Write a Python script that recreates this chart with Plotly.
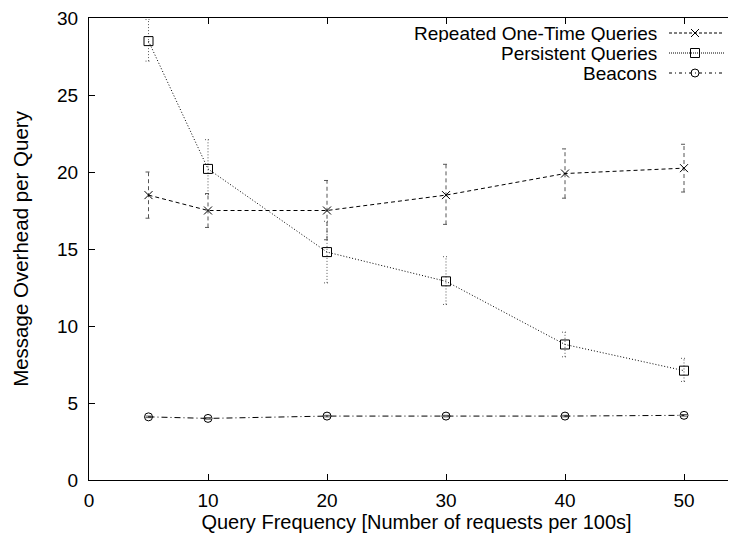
import plotly.graph_objects as go

freq = [5, 10, 20, 30, 40, 50]

rep_names = "Repeated One-Time Queries"
rep_mean = [18.5, 17.5, 17.5, 18.5, 19.9, 20.25]
rep_lo = [17.0, 16.4, 15.6, 16.6, 18.3, 18.7]
rep_hi = [20.0, 18.6, 19.45, 20.5, 21.5, 21.8]

per_names = "Persistent Queries"
per_mean = [28.5, 20.2, 14.8, 12.9, 8.8, 7.1]
per_lo = [27.2, 18.55, 12.8, 11.4, 8.0, 6.4]
per_hi = [29.9, 22.1, 16.8, 14.5, 9.6, 7.9]

bea_names = "Beacons"
bea_mean = [4.1, 4.0, 4.15, 4.15, 4.15, 4.2]
bea_lo = [4.05, 3.95, 4.1, 4.1, 4.1, 4.15]
bea_hi = [4.15, 4.05, 4.2, 4.2, 4.2, 4.25]

FONT = "Liberation Sans, Arial, sans-serif"
fig = go.Figure()

series = [
    (rep_names, rep_mean, rep_lo, rep_hi, "x-thin", 8, "4px,3px", "3px,2px"),
    (per_names, per_mean, per_lo, per_hi, "square-open", 9, "1px,2px", "1px,1px"),
    (bea_names, bea_mean, bea_lo, bea_hi, "circle-open", 8, "6px,3px,1px,3px", "3px,3px,1px,3px"),
]

cap = 0.25
for name, m, lo, hi, sym, size, edash, ldash in series:
    ex, ey = [], []
    for x, l, h in zip(freq, lo, hi):
        ex += [x, x, None, x - cap, x + cap, None, x - cap, x + cap, None]
        ey += [l, h, None, l, l, None, h, h, None]
    fig.add_trace(go.Scatter(x=ex, y=ey, mode="lines", showlegend=False,
                             line=dict(color="#555555", width=1, dash=edash),
                             hoverinfo="skip"))
    fig.add_trace(go.Scatter(x=freq, y=m, mode="lines+markers", name=name,
                             showlegend=False,
                             line=dict(color="black", width=1, dash=edash),
                             marker=dict(symbol=sym, size=size, color="black",
                                         line=dict(color="black", width=1))))

# page body has an 8px margin: figure coords = page coords - 8
ML, MT = 81, 10
plot_w = 736 - ML
plot_h = 462
PX0, PY1 = 89, 480  # page px of plot left / bottom


def px(page_x):
    return (page_x - PX0) / plot_w


def py(page_y):
    return (PY1 - page_y) / plot_h


rows = [py(33), py(53), py(73)]
leg_x0, leg_x1, leg_xm = px(669), px(724), px(695)
for (name, m, lo, hi, sym, size, edash, ldash), yy in zip(series, rows):
    fig.add_annotation(xref="paper", yref="paper", x=px(659), y=yy,
                       text=name, showarrow=False, xanchor="right", yanchor="middle",
                       height=18, font=dict(family=FONT, size=19, color="black"))
    fig.add_trace(go.Scatter(x=[leg_x0, leg_x1], y=[yy, yy],
                             xaxis="x2", yaxis="y2", mode="lines", showlegend=False,
                             line=dict(color="black", width=1, dash=ldash), hoverinfo="skip"))
    fig.add_trace(go.Scatter(x=[leg_xm], y=[yy], xaxis="x2", yaxis="y2", mode="markers",
                             showlegend=False, hoverinfo="skip",
                             marker=dict(symbol=sym, size=size, color="black",
                                         line=dict(color="black", width=1))))

fig.update_layout(
    width=736, height=534,
    margin=dict(l=ML, r=0, t=MT, b=62),
    paper_bgcolor="white", plot_bgcolor="white",
    font=dict(family=FONT, size=19, color="black"),
    showlegend=False,
    xaxis=dict(range=[0, plot_w / 11.9], tickvals=[0, 10, 20, 30, 40, 50],
               showline=True, linecolor="black", linewidth=1, mirror="ticks",
               ticks="inside", ticklen=6, tickcolor="black", showgrid=False,
               zeroline=False, ticklabelstandoff=3, automargin=False,
               ticklabeloverflow="allow",
               title=dict(text="Query Frequency [Number of requests per 100s]",
                          font=dict(size=20), standoff=5)),
    yaxis=dict(range=[0, 30], tickvals=[0, 5, 10, 15, 20, 25, 30],
               showline=True, linecolor="black", linewidth=1,
               ticks="inside", ticklen=6, tickcolor="black", showgrid=False,
               zeroline=False, ticklabelstandoff=6, automargin=False,
               ticklabeloverflow="allow",
               title=dict(text="Message Overhead per Query", font=dict(size=20.5),
                          standoff=22)),
    xaxis2=dict(range=[0, 1], overlaying="x", visible=False, fixedrange=True),
    yaxis2=dict(range=[0, 1], overlaying="y", visible=False, fixedrange=True),
)

fig.write_html("out.html")
